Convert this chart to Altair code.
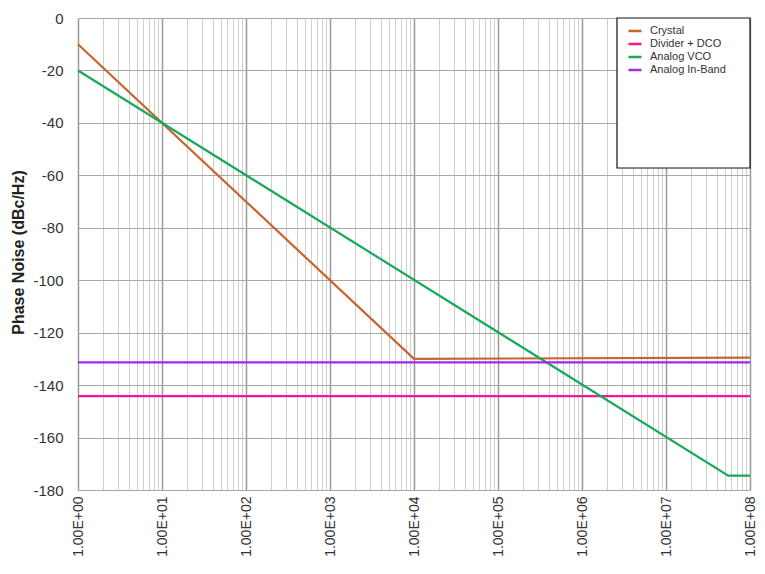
import altair as alt
import pandas as pd

# ---- data ----
crystal_f = [1, 1e4, 1e8]
crystal_pn = [-10, -130, -129.5]

divider_f = [1, 1e8]
divider_pn = [-144.2, -144.2]

vco_f = [1, 5.5e7, 1e8]
vco_pn = [-20, -174.5, -174.5]

inband_f = [1, 1e8]
inband_pn = [-131.3, -131.3]

series_names = ["Crystal", "Divider + DCO", "Analog VCO", "Analog In-Band"]
series_colors = ["#C8642E", "#F0179B", "#1AA85A", "#A428E8"]

y_ticks = [0, -20, -40, -60, -80, -100, -120, -140, -160, -180]
x_ticks = [m * 10 ** d for d in range(8) for m in range(1, 10)] + [1e8]

rows = []
for name, fs, pns in [
    ("Crystal", crystal_f, crystal_pn),
    ("Divider + DCO", divider_f, divider_pn),
    ("Analog VCO", vco_f, vco_pn),
    ("Analog In-Band", inband_f, inband_pn),
]:
    for i, (f, p) in enumerate(zip(fs, pns)):
        rows.append({"series": name, "f": f, "pn": p, "order": i})
df = pd.DataFrame(rows)

major_test = "abs(log(datum.value)/LN10 - round(log(datum.value)/LN10)) < 1e-6"

PW = 672
PH = 472

x_axis = alt.Axis(
    values=x_ticks,
    labelExpr=f"({major_test}) ? '1.00E+0' + format(round(log(datum.value)/LN10), 'd') : ''",
    labelAngle=-90,
    labelAlign="right",
    labelBaseline="middle",
    labelFontSize=14,
    labelColor="#333333",
    labelFont="Liberation Sans",
    labelPadding=6,
    labelOverlap=False,
    labelFlush=False,
    ticks=False,
    domain=False,
    title=None,
    grid=True,
    gridColor={"condition": {"test": major_test, "value": "#9a9a9a"}, "value": "#cfcfcf"},
    gridWidth={"condition": {"test": major_test, "value": 1.5}, "value": 1},
)

y_axis = alt.Axis(
    values=y_ticks,
    labelExpr="datum.value + ''",
    labelFontSize=15,
    labelColor="#333333",
    labelFont="Liberation Sans",
    labelPadding=15,
    ticks=False,
    domain=False,
    title="Phase Noise (dBc/Hz)",
    titleFont="Liberation Sans",
    titleFontSize=16,
    titleFontWeight="bold",
    titleColor="#222222",
    titleAngle=-90,
    titleX=-60,
    titleY=234,
    titleAlign="center",
    titleBaseline="middle",
    grid=True,
    gridColor="#a8a8a8",
    gridWidth=1.2,
)

box = alt.Chart(pd.DataFrame({"a": [0]})).mark_rect(
    fill="white", stroke="#111111", strokeWidth=1.2
).encode(
    x=alt.value(539), x2=alt.value(PW), y=alt.value(0), y2=alt.value(150)
)

lines = alt.Chart(df).mark_line(strokeWidth=2.2).encode(
    x=alt.X("f:Q", scale=alt.Scale(type="log", domain=[1, 1e8], nice=False), axis=x_axis),
    y=alt.Y("pn:Q", scale=alt.Scale(domain=[-180, 0], nice=False), axis=y_axis),
    color=alt.Color(
        "series:N",
        scale=alt.Scale(domain=series_names, range=series_colors),
        sort=series_names,
        legend=alt.Legend(
            title=None,
            orient="none",
            legendX=549,
            legendY=5,
            symbolType="stroke",
            symbolStrokeWidth=2.5,
            symbolSize=170,
            labelFontSize=11,
            labelFont="Liberation Sans",
            labelColor="#333333",
            rowPadding=-0.5,
            labelOffset=7,
            padding=0,
        ),
    ),
    order="order:Q",
    detail="series:N",
)

chart = (
    alt.layer(box, lines)
    .properties(
        width=PW,
        height=PH,
        autosize=alt.AutoSizeParams(type="none"),
        padding={"left": 70, "top": 10, "right": 7, "bottom": 71},
    )
    .configure_view(stroke="#9a9a9a", strokeWidth=1)
    .configure(background="white")
)

chart.save("out.html", embed_options={"renderer": "svg", "actions": False})
